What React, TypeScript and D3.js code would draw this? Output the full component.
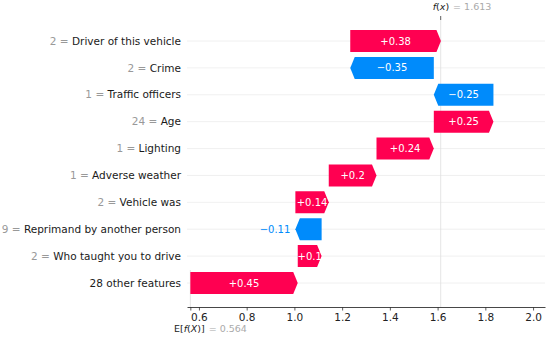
import React, { useEffect, useRef } from "react";
import * as d3 from "d3";

// feature rows, top to bottom
const features = [
  "Driver of this vehicle",
  "Crime",
  "Traffic officers",
  "Age",
  "Lighting",
  "Adverse weather",
  "Vehicle was",
  "Reprimand by another person",
  "Who taught you to drive",
  "28 other features",
];
const featureValues = ["2", "2", "1", "24", "1", "1", "2", "9", "2", ""];
const shapValues = [0.38, -0.35, -0.25, 0.25, 0.24, 0.2, 0.14, -0.11, 0.1, 0.45];
const baseValue = 0.564;
const fxValue = 1.613;
const xTicks = [0.6, 0.8, 1.0, 1.2, 1.4, 1.6, 1.8, 2.0];

const RED = "#ff0051";
const BLUE = "#008bfb";
const FONT = "DejaVu Sans, sans-serif";

const fmt = (v: number) => (v < 0 ? "\u2212" : "+") + String(Math.abs(v));

const App: React.FC = () => {
  const d3Container = useRef<SVGSVGElement>(null);

  useEffect(() => {
    if (!d3Container.current) return;
    const width = 550;
    const height = 337;
    const svg = d3.select(d3Container.current).html("");

    const x = d3.scaleLinear().domain([0.55, 2.05]).range([187, 545]);
    const y = d3
      .scalePoint<number>()
      .domain(d3.range(features.length))
      .range([41, 283]);
    const barH = 22;
    const headLen = 4.5;
    const axisY = 307;
    const topY = 20;

    // measure text widths for label placement
    const ctx = document.createElement("canvas").getContext("2d")!;
    ctx.font = `10px ${FONT}`;

    // running totals from the bottom up
    const starts: number[] = new Array(features.length);
    let acc = baseValue;
    for (let i = features.length - 1; i >= 0; i--) {
      starts[i] = acc;
      acc += shapValues[i];
    }

    // horizontal row guides
    svg
      .append("g")
      .selectAll("line")
      .data(d3.range(features.length))
      .join("line")
      .attr("x1", x.range()[0])
      .attr("x2", x.range()[1])
      .attr("y1", (i) => y(i)!)
      .attr("y2", (i) => y(i)!)
      .attr("stroke", "#ececec")
      .attr("stroke-width", 0.8);

    // f(x) vertical line
    svg
      .append("line")
      .attr("x1", x(fxValue))
      .attr("x2", x(fxValue))
      .attr("y1", topY)
      .attr("y2", axisY)
      .attr("stroke", "#dddddd")
      .attr("stroke-width", 0.8);

    // base value vertical line (bottom row only)
    svg
      .append("line")
      .attr("x1", x(baseValue))
      .attr("x2", x(baseValue))
      .attr("y1", y(features.length - 1)! - 13)
      .attr("y2", axisY)
      .attr("stroke", "#dddddd")
      .attr("stroke-width", 0.8);

    // arrows
    const bars = svg.append("g");
    shapValues.forEach((v, i) => {
      const s = starts[i];
      const e = s + v;
      const x0 = x(s);
      const x1 = x(e);
      const yc = y(i)!;
      const dir = v >= 0 ? 1 : -1;
      const hl = Math.min(headLen, Math.abs(x1 - x0));
      const pts: [number, number][] = [
        [x0, yc - barH / 2],
        [x1 - dir * hl, yc - barH / 2],
        [x1, yc],
        [x1 - dir * hl, yc + barH / 2],
        [x0, yc + barH / 2],
      ];
      bars
        .append("polygon")
        .attr("points", pts.map((p) => p.join(",")).join(" "))
        .attr("fill", v >= 0 ? RED : BLUE);

      const label = fmt(v);
      const tw = ctx.measureText(label).width;
      const bw = Math.abs(x1 - x0);
      const t = bars
        .append("text")
        .attr("y", yc)
        .attr("dy", "0.35em")
        .attr("font-family", FONT)
        .attr("font-size", 10)
        .text(label);
      if (tw <= bw + 2) {
        t.attr("x", (x0 + x1) / 2).attr("text-anchor", "middle").attr("fill", "#fff");
      } else if (v < 0) {
        t.attr("x", x1 - 5).attr("text-anchor", "end").attr("fill", BLUE);
      } else {
        t.attr("x", x1 + 5).attr("text-anchor", "start").attr("fill", RED);
      }
    });

    // feature labels
    const labels = svg
      .append("g")
      .selectAll("text")
      .data(d3.range(features.length))
      .join("text")
      .attr("x", 181)
      .attr("y", (i) => y(i)!)
      .attr("dy", "0.35em")
      .attr("text-anchor", "end")
      .attr("font-family", FONT)
      .attr("font-size", 10.5);
    labels
      .filter((i) => featureValues[i] !== "")
      .append("tspan")
      .attr("fill", "#999999")
      .text((i) => featureValues[i] + " = ");
    labels
      .append("tspan")
      .attr("fill", "#1a1a1a")
      .text((i) => features[i]);

    // bottom axis
    const axis = svg
      .append("g")
      .attr("transform", `translate(0,${axisY})`)
      .call(
        d3
          .axisBottom(x)
          .tickValues([baseValue, ...xTicks])
          .tickFormat((d) => (d === baseValue ? "" : d3.format(".1f")(d as number)))
          .tickSize(3.5)
          .tickPadding(3)
          .tickSizeOuter(0)
      );
    axis.select(".domain").attr("stroke", "#333").attr("stroke-width", 0.9);
    axis.selectAll(".tick line").attr("stroke", "#333").attr("stroke-width", 0.8);
    axis
      .selectAll(".tick text")
      .attr("fill", "#222")
      .attr("font-family", FONT)
      .attr("font-size", 10.5);

    // E[f(X)] label
    const eLab = svg
      .append("text")
      .attr("x", 174)
      .attr("y", 329)
      .attr("dy", "0.35em")
      .attr("font-family", FONT)
      .attr("font-size", 9.5);
    eLab.append("tspan").attr("fill", "#222").text("E[");
    eLab.append("tspan").attr("fill", "#222").attr("font-style", "italic").text("f");
    eLab.append("tspan").attr("fill", "#222").text("(");
    eLab.append("tspan").attr("fill", "#222").attr("font-style", "italic").text("X");
    eLab.append("tspan").attr("fill", "#222").text(")]");
    eLab
      .append("tspan")
      .attr("fill", "#aaaaaa")
      .attr("dx", 4)
      .text("= " + baseValue.toFixed(3));

    // top f(x) tick and label
    svg
      .append("line")
      .attr("x1", x(fxValue))
      .attr("x2", x(fxValue))
      .attr("y1", topY)
      .attr("y2", topY - 4)
      .attr("stroke", "#333")
      .attr("stroke-width", 0.8);
    const fLab = svg
      .append("text")
      .attr("x", x(fxValue) - 8)
      .attr("y", 7)
      .attr("dy", "0.35em")
      .attr("font-family", FONT)
      .attr("font-size", 9.5);
    fLab.append("tspan").attr("fill", "#222").attr("font-style", "italic").text("f");
    fLab.append("tspan").attr("fill", "#222").text("(");
    fLab.append("tspan").attr("fill", "#222").attr("font-style", "italic").text("x");
    fLab.append("tspan").attr("fill", "#222").text(")");
    fLab
      .append("tspan")
      .attr("fill", "#aaaaaa")
      .attr("dx", 4)
      .text("= " + fxValue.toFixed(3));

    svg.attr("viewBox", `0 0 ${width} ${height}`);
  }, []);

  return (
    <svg
      ref={d3Container}
      width={550}
      height={337}
      style={{ position: "absolute", left: 0, top: 0, background: "#fff" }}
    />
  );
};

export default App;
